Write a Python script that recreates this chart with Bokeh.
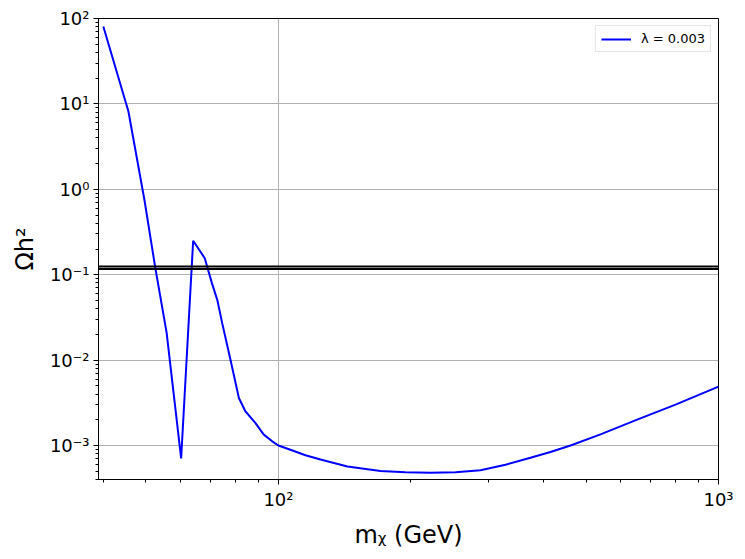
from bokeh.plotting import figure
from bokeh.models import FixedTicker, CustomJSTickFormatter, Span, Range1d
from bokeh.embed import file_html
from bokeh.resources import INLINE

# --- data ---
mass = [40.0, 45.6, 49.6, 52.5, 55.7, 58.0, 60.1, 64.0, 68.0, 70.6, 72.6, 74.5,
        77.8, 81.3, 84.1, 88.6, 92.6, 96.8, 100.0, 107.6, 115.2, 124.6, 143.5,
        170.6, 194.4, 221.5, 252.6, 287.8, 328.1, 373.8, 415.1, 461.0, 539.4,
        653.4, 798.6, 1000.0]
omega_h2 = [80.7, 8.2, 0.75, 0.12, 0.021, 0.00344, 0.000705, 0.25, 0.156, 0.0797,
            0.0508, 0.0271, 0.0101, 0.0036, 0.00252, 0.00184, 0.00134, 0.00112,
            0.001, 0.000874, 0.00077, 0.000686, 0.000568, 0.000504, 0.000486,
            0.00048, 0.000486, 0.000514, 0.000595, 0.000718, 0.000839, 0.001,
            0.00135, 0.00201, 0.00301, 0.00489]
planck_band = [0.117, 0.125]
series_label = "λ = 0.003"

x_major = [100, 1000]
x_minor = [k * 10 for k in range(4, 10)] + [k * 100 for k in range(2, 10)]
y_major = [1e-3, 1e-2, 1e-1, 1e0, 1e1, 1e2]
y_minor = [k * 10.0 ** e for e in range(-4, 2) for k in range(2, 10)]

FONT = "DejaVu Sans"

p = figure(width=737, height=551, x_axis_type="log", y_axis_type="log",
           x_range=Range1d(39, 1000), y_range=Range1d(4e-4, 100),
           output_backend="svg", toolbar_location=None,
           min_border_left=98, min_border_right=19,
           min_border_top=18, min_border_bottom=71)

p.line(mass, omega_h2, line_color="blue", line_width=2, legend_label=series_label)

for lvl in planck_band:
    p.add_layout(Span(location=lvl, dimension="width", line_color="black", line_width=2))

fmt = CustomJSTickFormatter(code="""
const sup = {"-":"\u207b","0":"\u2070","1":"\u00b9","2":"\u00b2","3":"\u00b3","4":"\u2074",
             "5":"\u2075","6":"\u2076","7":"\u2077","8":"\u2078","9":"\u2079"};
const e = Math.round(Math.log10(tick));
return "10" + String(e).split("").map(c => sup[c]).join("");
""")

p.xaxis.ticker = FixedTicker(ticks=x_major, minor_ticks=x_minor)
p.yaxis.ticker = FixedTicker(ticks=y_major, minor_ticks=y_minor)
p.xaxis.formatter = fmt
p.yaxis.formatter = fmt

p.xaxis.axis_label = "mᵪ (GeV)"
p.yaxis.axis_label = "Ωh²"

for ax in (p.xaxis, p.yaxis):
    ax.axis_label_text_font = FONT
    ax.axis_label_text_font_size = "24px"
    ax.axis_label_text_font_style = "normal"
    ax.axis_label_text_color = "black"
    ax.major_label_text_font = FONT
    ax.major_label_text_font_size = "18px"
    ax.major_label_text_color = "black"
    ax.axis_line_color = "black"
    ax.major_tick_line_color = "black"
    ax.minor_tick_line_color = "black"
    ax.major_tick_in = 0
    ax.major_tick_out = 5
    ax.minor_tick_in = 0
    ax.minor_tick_out = 3
    ax.major_label_standoff = 4
    ax.axis_label_standoff = 8

p.grid.grid_line_color = "#b0b0b0"
p.grid.grid_line_width = 1
p.grid.minor_grid_line_color = None

p.outline_line_color = "black"
p.outline_line_width = 1
p.outline_line_alpha = 1.0
p.background_fill_color = "white"
p.border_fill_color = "white"

p.legend.location = "top_right"
p.legend.label_text_font = FONT
p.legend.label_text_font_size = "13px"
p.legend.label_text_color = "black"
p.legend.border_line_color = "#cccccc"
p.legend.border_line_width = 1
p.legend.margin = 7
p.legend.padding = 5
p.legend.glyph_width = 30
p.legend.glyph_height = 14
p.legend.label_standoff = 10
p.legend.label_height = 14

open("out.html", "w").write(file_html(p, INLINE))
